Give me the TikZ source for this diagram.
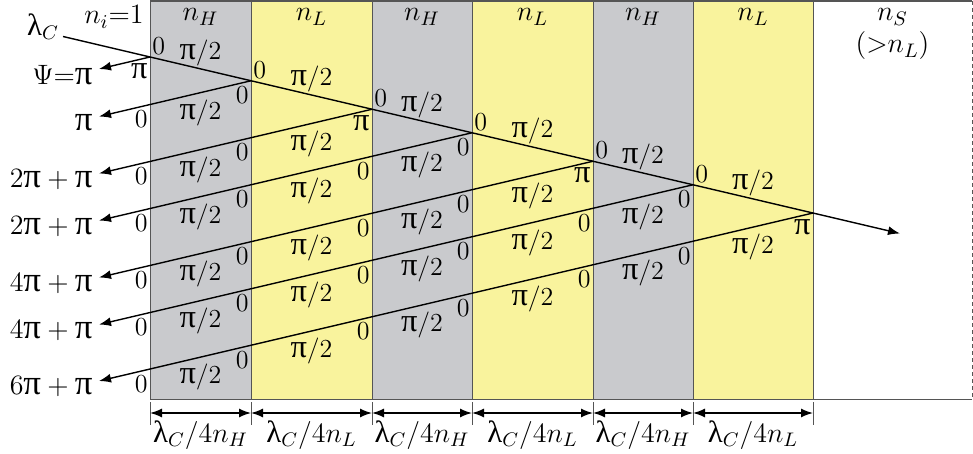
\documentclass[tikz,border=0pt]{standalone}
\usepackage{fix-cm}
\usepackage{amsmath}
\usepackage{fontspec}
\usepackage{tikz}
\usetikzlibrary{arrows.meta}
\newfontfamily\greekfont{Liberation Serif}[Scale=1.25]
\newfontfamily\lamfont{Liberation Serif}[Scale=1.1]
\newcommand{\gpi}{\text{\greekfont π}}
\newcommand{\glam}{\text{\lamfont λ}}
\definecolor{layergray}{RGB}{201, 202, 205}
\definecolor{layeryellow}{RGB}{249, 243, 157}
\definecolor{edgegray}{RGB}{85, 85, 85}

\begin{document}
\begin{tikzpicture}[x=0.5pt, y=-0.5pt, >={Latex[length=6pt,width=4.5pt]},
    every node/.style={font=\fontsize{13}{15.6}\selectfont},
    ray/.style={line width=0.7pt},
    edge/.style={draw=edgegray, line width=0.5pt},
    phase/.style={anchor=north east, inner sep=1pt},
    bigtext/.style={font=\fontsize{14}{17}\selectfont}]
    \useasboundingbox (0,0) rectangle (973,454);
    \def\xs{{150,251,372,472,593,693,813}}
    \def\slope{0.2353}

    % Layers
    \foreach \a/\b/\c in {150/251/layergray, 251/372/layeryellow, 372/472/layergray,
                          472/593/layeryellow, 593/693/layergray, 693/813/layeryellow}
        \fill[\c] (\a,0) rectangle (\b,399);
    \foreach \x in {150,251,372,472,593,693,813}
        \draw[edge] (\x,0) -- (\x,399);
    \draw[edge, line width=1pt] (150,1) -- (972,1);
    \draw[edge] (150,399) -- (972,399);
    \draw[edge, dash pattern=on 2pt off 1.5pt] (972,1) -- (972,399);

    % Indices
    \node[bigtext] (ni) at (114,17) {$n_i{=}1$};
    \node[bigtext] (nh1) at (200.5,17) {$n_H$};
    \node[bigtext] (nl1) at (311.5,17) {$n_L$};
    \node[bigtext] (nh2) at (422,17) {$n_H$};
    \node[bigtext] (nl2) at (532.5,17) {$n_L$};
    \node[bigtext] (nh3) at (643,17) {$n_H$};
    \node[bigtext] (nl3) at (753,17) {$n_L$};
    \node[bigtext] (ns) at (892.5,17) {$n_S$};
    \node[bigtext] (nsl) at (892.5,46) {$({>}n_L)$};

    % Hit points and ends of the reflected rays
    \foreach \k in {0,...,6}{
        \pgfmathsetmacro\xk{\xs[\k]}
        \pgfmathsetmacro\yk{57+\slope*(\xk-150)}
        \pgfmathsetmacro\yr{\yk+\slope*(\xk-99)}
        \coordinate (h\k) at (\xk,\yk);
        \coordinate (r\k) at (99,\yr);
    }

    % Incident ray
    \coordinate (src) at (63,36.5);
    \coordinate (tip) at (900,233.5);
    \node[bigtext] (lamc) at (43,27) {$\glam_C$};
    \draw[ray, ->] (src) -- (tip);

    % Reflected rays
    \foreach \k in {0,...,6}
        \draw[ray, ->] (h\k) -- (r\k);
    \foreach \k/\txt in {0/{$\Psi{=}\gpi$}, 1/{$\gpi$}, 2/{$2\gpi+\gpi$}, 3/{$2\gpi+\gpi$},
                         4/{$4\gpi+\gpi$}, 5/{$4\gpi+\gpi$}, 6/{$6\gpi+\gpi$}}
        \node[bigtext, anchor=east, inner sep=1pt] (out\k) at ([xshift=-2pt,yshift=-3pt]r\k) {\txt};

    % Phases at the hit points
    \foreach \k in {0,...,6}{
        \pgfmathsetmacro\xk{\xs[\k]}
        \pgfmathsetmacro\yk{57+\slope*(\xk-150)}
        \pgfmathtruncatemacro\odd{mod(\k,2)}
        \ifnum\odd=0
            \node[phase] (p\k) at (\xk,\yk+4) {$\gpi$};
        \else
            \node[phase] (p\k) at (\xk,\yk+4) {$0$};
        \fi
    }

    % Phases along the incident ray
    \foreach \j in {0,...,5}{
        \pgfmathsetmacro\xj{\xs[\j]}
        \pgfmathsetmacro\xm{(\xj+\xs[\j+1])/2}
        \pgfmathsetmacro\ym{57+\slope*(\xm-150)}
        \node[anchor=south west, inner sep=1pt] (e\j) at (h\j) {$0$};
        \node[above=-2pt] (a\j) at (\xm,\ym) {$\gpi/2$};
    }

    % Phases along the reflected rays
    \foreach \k in {1,...,6}{
        \pgfmathtruncatemacro\km{\k-1}
        \foreach \j in {0,...,\km}{
            \pgfmathsetmacro\xk{\xs[\k]}
            \pgfmathsetmacro\xj{\xs[\j]}
            \pgfmathsetmacro\xm{(\xj+\xs[\j+1])/2}
            \pgfmathsetmacro\yc{57+\slope*(\xk-150)+\slope*(\xk-\xj)}
            \pgfmathsetmacro\ym{57+\slope*(\xk-150)+\slope*(\xk-\xm)}
            \node[phase] (c\j\k) at (\xj,\yc+4) {$0$};
            \node[below] (q\j\k) at (\xm,\ym) {$\gpi/2$};
        }
    }

    % Thicknesses
    \foreach \j in {0,...,6}{
        \pgfmathsetmacro\xj{\xs[\j]}
        \coordinate (d\j) at (\xj,413);
        \draw[edge] (\xj,402) -- (\xj,425);
    }
    \foreach \a/\b/\n in {0/1/H, 1/2/L, 2/3/H, 3/4/L, 4/5/H, 5/6/L}
        \draw[ray, <->] (d\a) -- (d\b) node[midway, below, bigtext] (w\a) {$\glam_C/4n_\n$};
\end{tikzpicture}
\end{document}
